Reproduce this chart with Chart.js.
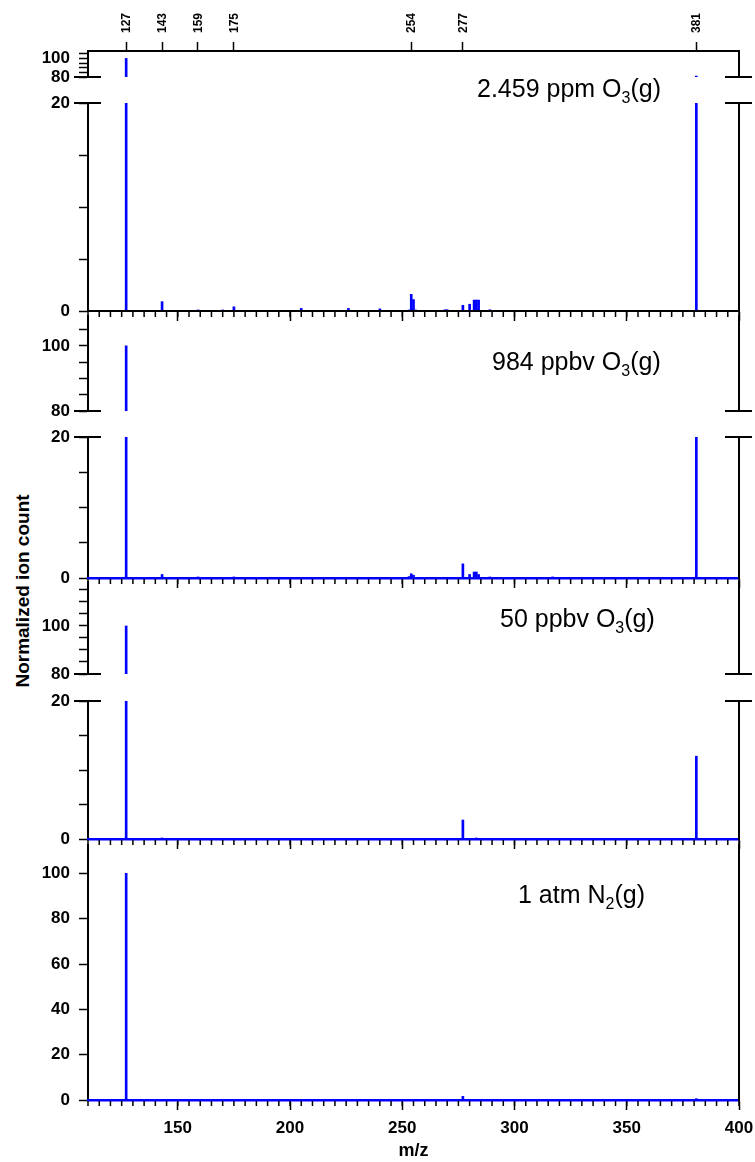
<!DOCTYPE html>
<html>
<head>
<meta charset="utf-8">
<title>Normalized ion count vs m/z</title>
<script src="https://cdn.jsdelivr.net/npm/chart.js@4.4.1/dist/chart.umd.min.js"></script>
<style>
  html, body { margin: 0; padding: 0; background: #fff; }
  #fig { position: relative; width: 755px; height: 1162px; overflow: hidden;
         font-family: Arial, "Liberation Sans", Helvetica, sans-serif; color: #000; }
  #fig canvas { position: absolute; left: 0; }
  .cond { position: absolute; font-size: 25px; line-height: 1; white-space: nowrap; }
  .cond sub { font-size: 16px; line-height: 0; vertical-align: -6px; }
  .frame-right { position: absolute; width: 2px; background: #000; }
  #ytitle { position: absolute; left: 22px; top: 591px; font-size: 19px; font-weight: bold;
            white-space: nowrap; line-height: 1; transform: translate(-50%, -50%) rotate(-90deg); }
</style>
</head>
<body>
<div id="fig">
  <div id="ytitle">Normalized ion count</div>
</div>
<script>
// ---------- axis definitions ----------
const mzRange = [110, 400];
const xMajorTicks = [150, 200, 250, 300, 350, 400];
const xMinorStep = 5;
const topTicks = [127, 143, 159, 175, 254, 277, 381];

const upperTicks = [80, 85, 90, 95, 100, 105, 110, 115];
const upperLabels = [80, 100];
const lowerTicks = [0, 5, 10, 15, 20];
const lowerLabels = [0, 20];
const fullTicks = [0, 20, 40, 60, 80, 100];

// ---------- spectra (peak m/z and normalized ion count) ----------
// 2.459 ppm O3(g)
const mzHigh = [127, 143, 159, 170, 175, 205, 226, 240, 253, 254, 255, 256, 269, 270, 277, 280, 282, 283, 284, 289, 381];
const countsHigh = [100, 0.9, 0.1, 0.1, 0.4, 0.25, 0.25, 0.2, 0.1, 1.6, 1.1, 0.1, 0.12, 0.12, 0.55, 0.65, 1.05, 1.05, 1.05, 0.12, 81];
// 984 ppbv O3(g)
const mzMid = [127, 143, 159, 175, 205, 253, 254, 255, 268, 277, 280, 282, 283, 284, 289, 317, 362, 381];
const countsMid = [100, 0.5, 0.15, 0.15, 0.1, 0.2, 0.6, 0.4, 0.1, 2.0, 0.5, 0.85, 0.85, 0.5, 0.15, 0.15, 0.1, 50];
// 50 ppbv O3(g)
const mzLow = [127, 143, 187, 212, 254, 277, 283, 289, 317, 335, 362, 381];
const countsLow = [100, 0.15, 0.1, 0.1, 0.1, 2.75, 0.15, 0.1, 0.1, 0.1, 0.1, 12];
// 1 atm N2(g)
const mzN2 = [127, 277, 317, 335, 357, 381];
const countsN2 = [100, 1.6, 0.3, 0.2, 0.2, 0.6];

// condition labels: [text, subscript, text]
const conditionText = [
  ['2.459 ppm O', '3', '(g)'],
  ['984 ppbv O', '3', '(g)'],
  ['50 ppbv O', '3', '(g)'],
  ['1 atm N', '2', '(g)']
];

// ---------- layout ----------
const FIG_W = 755, FIG_H = 1162;
const PLOT_LEFT = 88, PLOT_RIGHT = 739;
const MARGIN = 24;          // room around each plot area for tick labels
const BLUE = '#0000ff';

const panels = [
  { mz: mzHigh, counts: countsHigh, text: conditionText[0], textAt: [477, 75.5],
    base: { color: '#000', width: 2 },
    segments: [
      { top: 51, bottom: 77, range: [80, 108], ticks: upperTicks, labels: upperLabels, topAxis: true, brk: 'bottom' },
      { top: 103, bottom: 311, range: [0, 20], ticks: lowerTicks, labels: lowerLabels, xAxis: 'ticks', brk: 'top' }
    ] },
  { mz: mzMid, counts: countsMid, text: conditionText[1], textAt: [492, 349],
    base: { color: BLUE, width: 2.5 },
    segments: [
      { top: 316, bottom: 411, range: [80, 109.2], ticks: upperTicks, labels: upperLabels, brk: 'bottom' },
      { top: 437, bottom: 578, range: [0, 20], ticks: lowerTicks, labels: lowerLabels, xAxis: 'ticks', brk: 'top' }
    ] },
  { mz: mzLow, counts: countsLow, text: conditionText[2], textAt: [500, 606],
    base: { color: BLUE, width: 2.5 },
    segments: [
      { top: 582, bottom: 674, range: [80, 118.3], ticks: upperTicks, labels: upperLabels, brk: 'bottom' },
      { top: 701, bottom: 839, range: [0, 20], ticks: lowerTicks, labels: lowerLabels, xAxis: 'ticks', brk: 'top' }
    ] },
  { mz: mzN2, counts: countsN2, text: conditionText[3], textAt: [518, 882],
    base: { color: BLUE, width: 2.5 },
    segments: [
      { top: 845, bottom: 1100, range: [0, 112.5], ticks: fullTicks, labels: fullTicks, xAxis: 'labels' }
    ] }
];

Chart.defaults.font.family = 'Arial, "Liberation Sans", Helvetica, sans-serif';
Chart.defaults.font.size = 17;
Chart.defaults.font.weight = 'bold';
Chart.defaults.color = '#000';

// right frame line, minor x ticks, axis-break marks and the rotated top labels
const segMarks = {
  id: 'segMarks',
  afterDraw(chart, args, opts) {
    const { ctx, chartArea: a } = chart;
    const xs = chart.scales.x;
    ctx.save();
    ctx.strokeStyle = '#000';

    ctx.lineWidth = 2;
    ctx.beginPath();
    ctx.moveTo(a.right, a.top - (opts.topLabels ? 1 : 0));
    ctx.lineTo(a.right, a.bottom + 1);
    ctx.stroke();

    if (opts.minorX) {
      ctx.lineWidth = 1.5;
      ctx.beginPath();
      for (let v = mzRange[0]; v <= mzRange[1]; v += xMinorStep) {
        const px = xs.getPixelForValue(v);
        ctx.moveTo(px, a.bottom + 1);
        ctx.lineTo(px, a.bottom + 6);
      }
      ctx.stroke();
    }
    if (opts.brk) {
      const y = opts.brk === 'top' ? a.top : a.bottom;
      ctx.lineWidth = 2;
      ctx.beginPath();
      ctx.moveTo(a.left - 14, y); ctx.lineTo(a.left + 13, y);
      ctx.moveTo(a.right - 14, y); ctx.lineTo(a.right + 13, y);
      ctx.stroke();
    }
    if (opts.topLabels) {
      const xt = chart.scales.xt;
      ctx.fillStyle = '#000';
      ctx.font = 'bold 12px Arial, "Liberation Sans", sans-serif';
      ctx.textAlign = 'left';
      ctx.textBaseline = 'middle';
      xt.ticks.forEach(t => {
        const px = xt.getPixelForValue(t.value);
        ctx.save();
        ctx.translate(px + 0.5, a.top - 18);
        ctx.rotate(-Math.PI / 2);
        ctx.fillText(String(t.value), 0, 0);
        ctx.restore();
      });
    }
    ctx.restore();
  }
};

const fig = document.getElementById('fig');

function setTicks(values) {
  return scale => {
    scale.ticks = values.filter(v => v >= scale.min && v <= scale.max).map(v => ({ value: v }));
  };
}

function makeSegment(panel, seg) {
  const cTop = seg.topAxis ? 0 : seg.top - MARGIN;
  const cBottom = seg.xAxis === 'labels' ? FIG_H : seg.bottom + MARGIN;
  const showX = !!seg.xAxis;
  const canvas = document.createElement('canvas');
  canvas.width = FIG_W;
  canvas.height = cBottom - cTop;
  canvas.style.top = cTop + 'px';
  canvas.style.width = FIG_W + 'px';
  canvas.style.height = (cBottom - cTop) + 'px';
  fig.appendChild(canvas);

  const scales = {
    x: {
      type: 'linear', position: 'bottom', min: mzRange[0], max: mzRange[1], offset: false,
      display: showX,
      afterBuildTicks: setTicks(xMajorTicks),
      // the bottom box always fills the space below the plot area
      afterFit: s => { s.height = cBottom - seg.bottom; },
      grid: { drawOnChartArea: false, offset: false, tickLength: 10, tickWidth: 1.5, tickColor: '#000' },
      border: { display: true, color: panel.base.color, width: panel.base.width, z: 1 },
      // small padding keeps the last label inside the right margin; the tall line
      // height pushes the labels down to their place below the ticks
      ticks: { display: seg.xAxis === 'labels', padding: 1, maxRotation: 0, autoSkip: false,
               font: { size: 17, weight: 'bold', lineHeight: 2.07 } },
      title: { display: seg.xAxis === 'labels', text: 'm/z', font: { size: 18, weight: 'bold' },
               padding: { top: 0, bottom: 0 } }
    },
    y: {
      type: 'linear', position: 'left', min: seg.range[0], max: seg.range[1],
      afterBuildTicks: setTicks(seg.ticks),
      afterFit: s => { s.width = PLOT_LEFT; },
      grid: { drawOnChartArea: false, tickLength: 9, tickWidth: 1.5, tickColor: '#000' },
      border: { display: true, color: '#000', width: 2 },
      ticks: { padding: 9, autoSkip: false, font: { size: 17, weight: 'bold' },
               callback: v => seg.labels.includes(v) ? String(v) : '' }
    },
    yr: {
      type: 'linear', position: 'right', min: 0, max: 1,
      afterFit: s => { s.width = FIG_W - PLOT_RIGHT; },
      grid: { display: true, drawOnChartArea: false, drawTicks: false, color: 'rgba(0,0,0,0)' },
      border: { display: true, color: '#000', width: 2 },
      ticks: { display: false }
    }
  };
  if (seg.topAxis) {
    scales.xt = {
      type: 'linear', position: 'top', min: mzRange[0], max: mzRange[1], offset: false,
      afterBuildTicks: setTicks(topTicks),
      afterFit: s => { s.height = seg.top; },
      grid: { drawOnChartArea: false, offset: false, tickLength: 9, tickWidth: 1.5, tickColor: '#000' },
      border: { display: true, color: '#000', width: 2 },
      ticks: { display: false }
    };
  }

  new Chart(canvas, {
    type: 'bar',
    data: {
      datasets: [{
        data: panel.mz.map((m, i) => ({ x: m, y: panel.counts[i] })),
        backgroundColor: BLUE,
        borderWidth: 0,
        barThickness: 2,
        clip: 0,
        xAxisID: 'x',
        yAxisID: 'y'
      }]
    },
    options: {
      responsive: false,
      animation: false,
      devicePixelRatio: 1,
      layout: {
        autoPadding: false,
        padding: { top: seg.topAxis ? 0 : seg.top - cTop, bottom: 0, left: 0, right: 0 }
      },
      plugins: {
        legend: { display: false },
        tooltip: { enabled: false },
        segMarks: { brk: seg.brk, minorX: showX, topLabels: !!seg.topAxis }
      },
      scales
    },
    plugins: [segMarks]
  });
}

panels.forEach(panel => {
  panel.segments.forEach(seg => makeSegment(panel, seg));
  const div = document.createElement('div');
  div.className = 'cond';
  div.style.left = panel.textAt[0] + 'px';
  div.style.top = panel.textAt[1] + 'px';
  div.appendChild(document.createTextNode(panel.text[0]));
  const sub = document.createElement('sub');
  sub.textContent = panel.text[1];
  div.appendChild(sub);
  div.appendChild(document.createTextNode(panel.text[2]));
  fig.appendChild(div);
});

// right frame edge of the bottom panel, laid over the canvases
const lastSeg = panels[panels.length - 1].segments[0];
const frameRight = document.createElement('div');
frameRight.className = 'frame-right';
frameRight.style.left = (PLOT_RIGHT - 1) + 'px';
frameRight.style.top = lastSeg.top + 'px';
frameRight.style.height = (lastSeg.bottom - lastSeg.top + 1) + 'px';
fig.appendChild(frameRight);
</script>
</body>
</html>
